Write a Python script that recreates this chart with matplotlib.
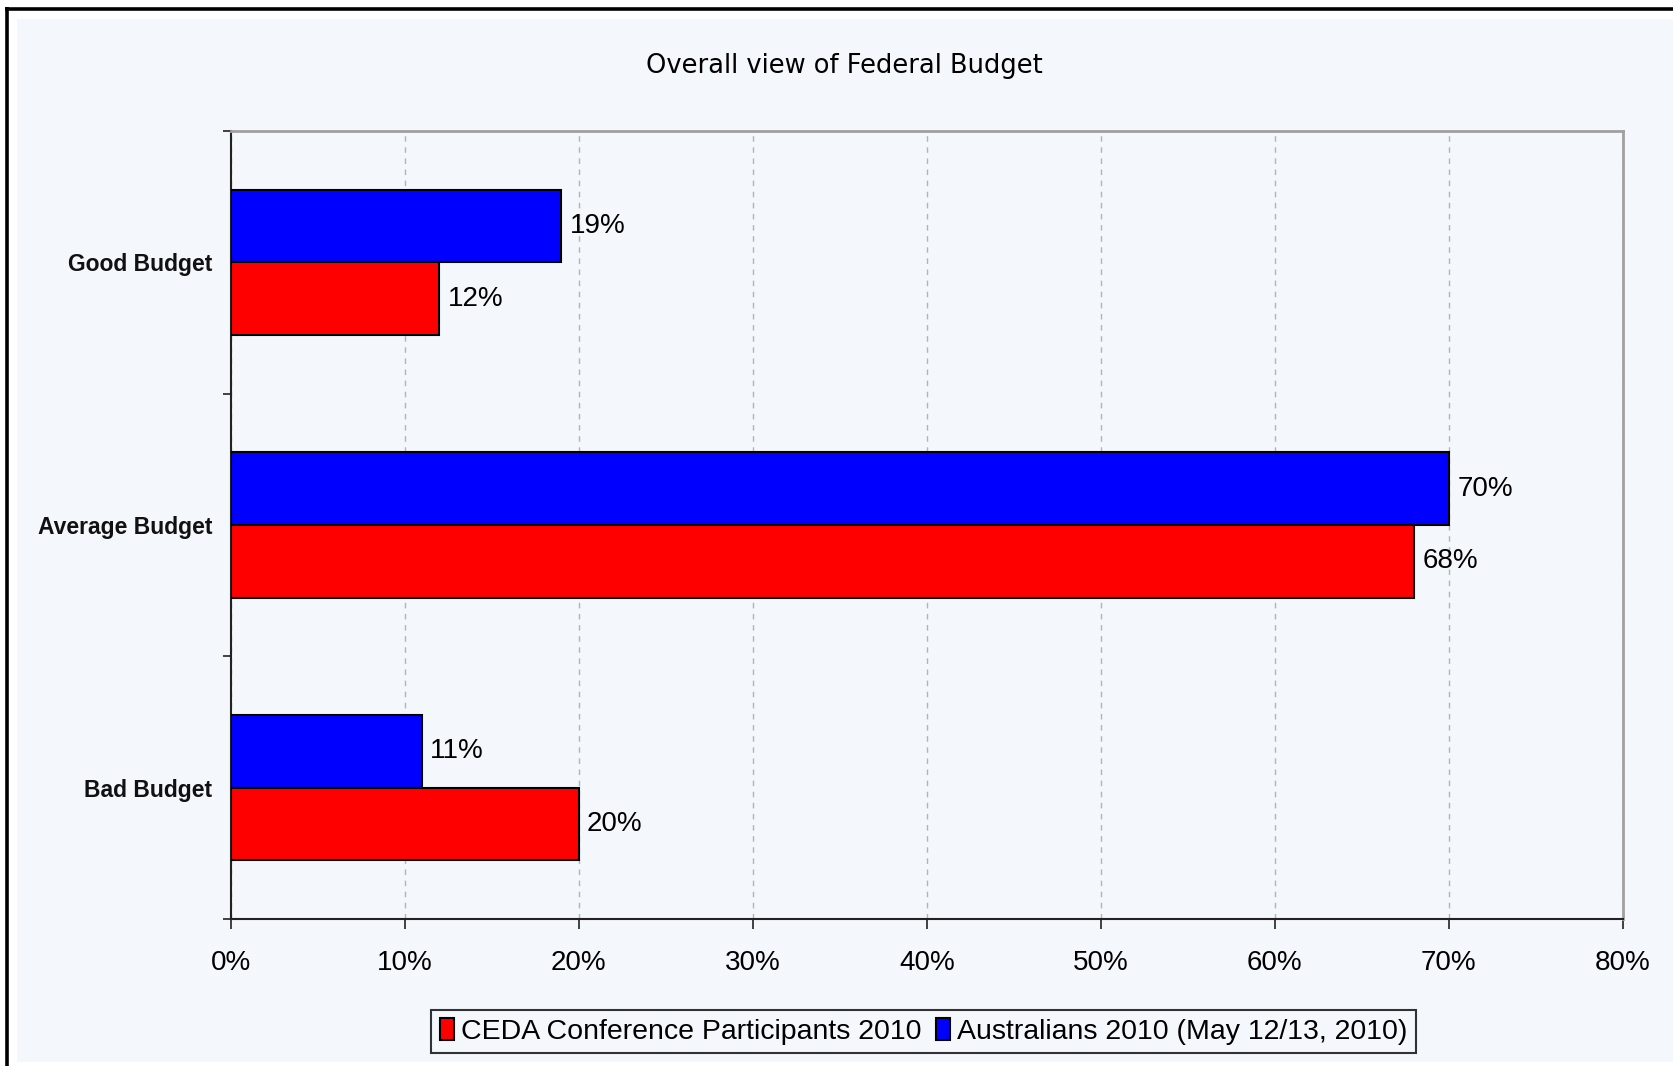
import numpy as np
import matplotlib
matplotlib.use("Agg")
import matplotlib.pyplot as plt
from matplotlib.patches import Rectangle
from matplotlib.lines import Line2D
from matplotlib.ticker import FuncFormatter, FixedLocator

# data
categories = ["Good Budget", "Average Budget", "Bad Budget"]
ceda_2010 = [12, 68, 20]
australians_2010 = [19, 70, 11]
series_names = ["CEDA Conference Participants 2010", "Australians 2010 (May 12/13, 2010)"]
x_ticks = [0, 10, 20, 30, 40, 50, 60, 70, 80]

W, H = 1673, 1066
bg = "#F4F8FC"

fig = plt.figure(figsize=(W / 100, H / 100), dpi=100, facecolor="white")

# background panel + black frame on left/top
fig.patches.append(Rectangle((17 / W, 4 / H), 1 - 17 / W, 1 - 23 / H,
                             transform=fig.transFigure, facecolor=bg,
                             edgecolor="none", zorder=-10))
fig.lines.append(Line2D([6.5 / W, 6.5 / W], [0, 1 - 7 / H], transform=fig.transFigure,
                        color="black", lw=2.6, solid_capstyle="butt", zorder=-5))
fig.lines.append(Line2D([5 / W, 1], [1 - 8.5 / H, 1 - 8.5 / H], transform=fig.transFigure,
                        color="black", lw=2.6, solid_capstyle="butt", zorder=-5))

ax = fig.add_axes([230.5 / W, 1 - 919 / H, (1623 - 230.5) / W, (919 - 131) / H])
ax.set_facecolor(bg)

y = np.arange(len(categories)) + 0.5
h = 0.277
b_blue = ax.barh(y - h / 2, australians_2010, height=h, color="#0000FF",
                 edgecolor="black", linewidth=1.5, label=series_names[1], zorder=3)
b_red = ax.barh(y + h / 2, ceda_2010, height=h, color="#FF0000",
                edgecolor="black", linewidth=1.5, label=series_names[0], zorder=3)

for bars, vals in ((b_blue, australians_2010), (b_red, ceda_2010)):
    for r, v in zip(bars, vals):
        ax.annotate(f"{v}%", (v, r.get_y() + r.get_height() / 2),
                    xytext=(6, 0), textcoords="offset points",
                    ha="left", va="center", fontsize=20,
                    family="Liberation Sans", color="black", zorder=4)

ax.set_xlim(0, 80)
ax.set_ylim(3, 0)
ax.set_xticks(x_ticks)
ax.xaxis.set_major_formatter(FuncFormatter(lambda v, p: f"{int(v)}%"))
ax.tick_params(axis="x", direction="out", length=7, width=1.2, pad=15,
               labelsize=20, color="#222222")
for lab in ax.get_xticklabels():
    lab.set_family("Liberation Sans")

ax.set_yticks(y)
ax.set_yticklabels(categories, fontsize=16.5, fontweight="bold",
                   family="Liberation Sans", color="#111111")
ax.yaxis.set_minor_locator(FixedLocator([0, 1, 2, 3]))
ax.tick_params(axis="y", which="major", length=0, pad=13)
ax.tick_params(axis="y", which="minor", direction="out", length=6, width=1.2,
               color="#222222")

ax.grid(axis="x", color="#B4B4B4", linestyle=(0, (4, 4)), linewidth=1, zorder=0)
ax.set_axisbelow(True)

for s in ("top", "right"):
    ax.spines[s].set_color("#A0A0A0")
    ax.spines[s].set_linewidth(2)
for s in ("left", "bottom"):
    ax.spines[s].set_color("#222222")
    ax.spines[s].set_linewidth(1.5)

fig.text(0.505, 1 - 66 / H, "Overall view of Federal Budget", ha="center", va="center",
         fontsize=18.5, family="DejaVu Sans", color="black")

leg = fig.legend(handles=[b_red, b_blue], labels=series_names, ncol=2,
                 loc="center", bbox_to_anchor=(0.552, 1 - 1031.5 / H),
                 prop={"family": "Liberation Sans", "size": 20.5},
                 handlelength=0.5, handleheight=0.8, handletextpad=0.25,
                 columnspacing=0.5, borderpad=0.3, frameon=True, fancybox=False)
leg.get_frame().set_edgecolor("black")
leg.get_frame().set_linewidth(1.5)
leg.get_frame().set_facecolor(bg)

fig.savefig("out.png", dpi=100, facecolor=fig.get_facecolor())
